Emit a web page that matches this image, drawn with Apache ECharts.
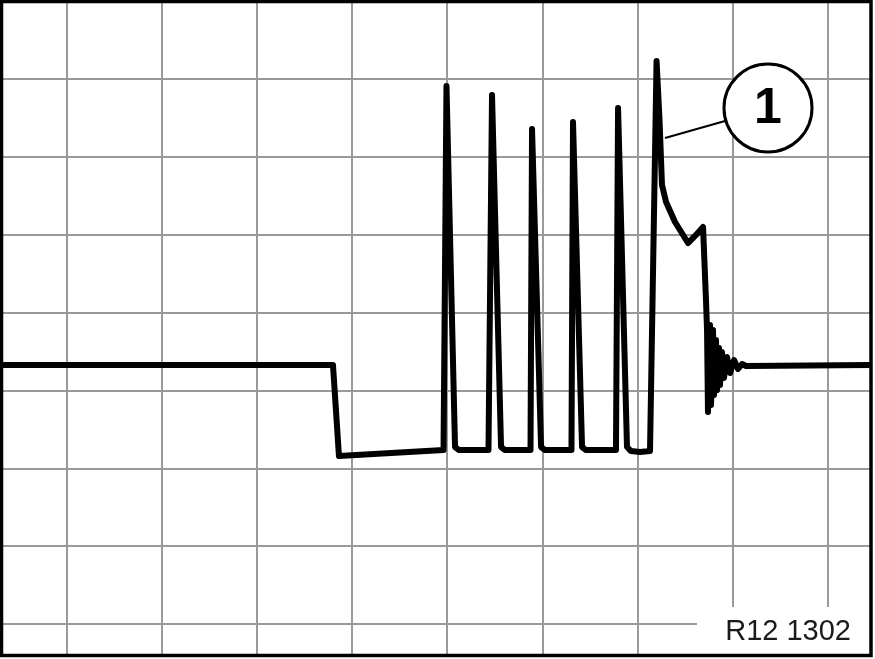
<!DOCTYPE html>
<html>
<head>
<meta charset="utf-8">
<script src="https://cdn.jsdelivr.net/npm/echarts@6/dist/echarts.min.js"></script>
<style>
html,body{margin:0;padding:0;background:#fff;}
#chart{width:875px;height:659px;}
</style>
</head>
<body>
<div id="chart"></div>
<script>
// Time axis in screen divisions (grid lines at whole divisions)
const timeDiv = [
  0.316, 3.798, 3.861, 4.961, 4.992, 5.082, 5.124,
  5.434, 5.471, 5.566, 5.608,
  5.876, 5.892, 5.987, 6.029,
  6.307, 6.323, 6.418, 6.460,
  6.775, 6.797, 6.891, 6.933, 7.028, 7.133,
  7.202, 7.233, 7.259, 7.302, 7.396, 7.533, 7.617, 7.691,
  7.722, 7.733, 7.743, 7.764, 7.775, 7.796, 7.806, 7.827, 7.838,
  7.859, 7.869, 7.890, 7.911, 7.943, 7.975, 8.017, 8.059, 8.101, 8.143,
  9.458
];
// Signal amplitude in screen divisions (from bottom of grid)
const signalDiv = [
  4.326, 4.326, 3.157, 3.234, 7.910, 3.273, 3.234,
  3.234, 7.794, 3.273, 3.234,
  3.234, 7.357, 3.273, 3.234,
  3.234, 7.447, 3.273, 3.234,
  3.234, 7.627, 3.273, 3.221, 3.209, 3.221,
  8.231, 7.473, 6.638, 6.420, 6.163, 5.893, 5.996, 6.099,
  5.161, 4.776, 3.722, 4.840, 3.812, 4.776, 3.941, 4.647, 4.005,
  4.544, 4.069, 4.493, 4.159, 4.429, 4.223, 4.390, 4.275, 4.339, 4.313,
  4.326
];
const calloutLabel = '1';
const figureLabel = 'R12 1302';

const trace = timeDiv.map((t, i) => [t, signalDiv[i]]);

const chart = echarts.init(document.getElementById('chart'), null, {renderer: 'canvas'});
const gridLine = {show: true, lineStyle: {color: '#9a9a9a', width: 2}};
chart.setOption({
  animation: false,
  backgroundColor: '#ffffff',
  grid: {left: -28.06, top: 1.1, width: 950.6, height: 700.74, containLabel: false, outerBoundsMode: 'none'},
  xAxis: {
    type: 'value', min: 0, max: 10, interval: 1,
    axisLine: {show: false}, axisTick: {show: false}, axisLabel: {show: false},
    splitLine: gridLine
  },
  yAxis: {
    type: 'value', min: 0, max: 9, interval: 1,
    axisLine: {show: false}, axisTick: {show: false}, axisLabel: {show: false},
    splitLine: gridLine
  },
  series: [{
    type: 'line',
    data: trace,
    showSymbol: false,
    symbol: 'none',
    lineStyle: {color: '#000', width: 6, join: 'round', cap: 'round'},
    z: 3
  }],
  graphic: [
    {type: 'rect', z: 20, shape: {x: 872, y: 0, width: 10, height: 659}, style: {fill: '#fff'}},
    {type: 'rect', z: 20, shape: {x: 0, y: 657, width: 875, height: 10}, style: {fill: '#fff'}},
    {type: 'rect', z: 21, shape: {x: 697, y: 607, width: 174, height: 48}, style: {fill: '#fff'}},
    {type: 'text', z: 22, style: {text: figureLabel, x: 851, y: 632, align: 'right', verticalAlign: 'middle',
      font: '29px "Liberation Sans", Arial, sans-serif', fill: '#1a1a1a'}},
    {type: 'line', z: 22, shape: {x1: 665, y1: 138, x2: 725, y2: 121}, style: {stroke: '#000', lineWidth: 2}},
    {type: 'circle', z: 22, shape: {cx: 768, cy: 108, r: 44}, style: {fill: '#fff', stroke: '#000', lineWidth: 3}},
    {type: 'text', z: 23, style: {text: calloutLabel, x: 768, y: 109, align: 'center', verticalAlign: 'middle',
      font: 'bold 50px "Liberation Sans", Arial, sans-serif', fill: '#000'}},
    {type: 'rect', z: 25, shape: {x: 1.5, y: 1.5, width: 869.5, height: 654}, style: {fill: 'none', stroke: '#000', lineWidth: 3.5}}
  ]
});
</script>
</body>
</html>
